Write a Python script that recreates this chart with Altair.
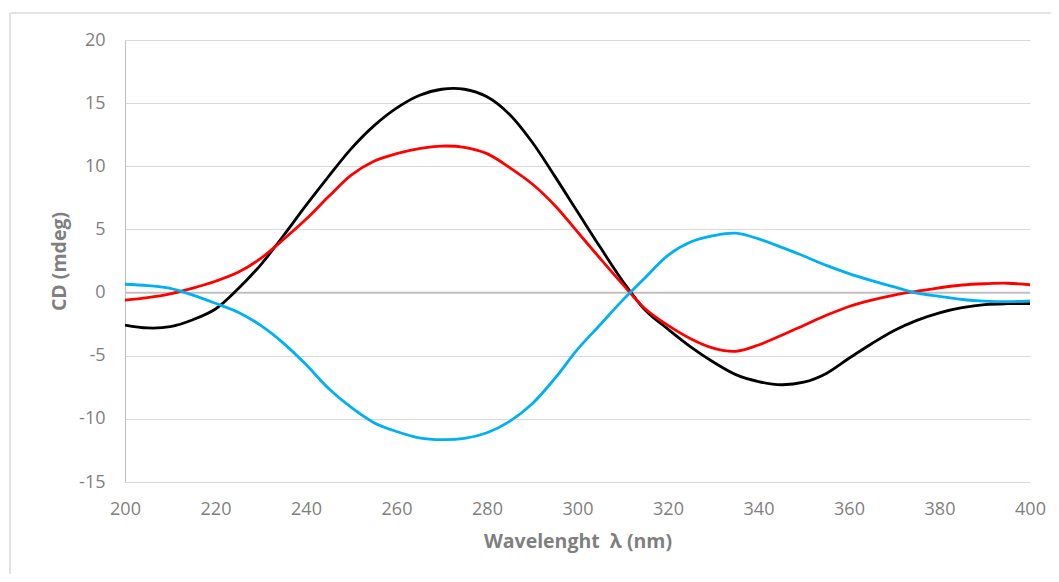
import altair as alt
import pandas as pd

wavelength = [200, 205, 210, 215, 220, 225, 230, 235, 240, 245, 250, 255, 260, 265, 270,
              275, 280, 285, 290, 295, 300, 305, 310, 315, 320, 325, 330, 335, 340, 345,
              350, 355, 360, 365, 370, 375, 380, 385, 390, 395, 400]

black_cd = [-2.57, -2.8, -2.7, -2.15, -1.3, 0.3, 2.2, 4.5, 6.9, 9.2, 11.4, 13.2, 14.6, 15.6, 16.1,
            16.1, 15.5, 14.1, 11.9, 9.2, 6.4, 3.6, 0.9, -1.4, -2.9, -4.3, -5.5, -6.5, -7.05, -7.3,
            -7.1, -6.4, -5.2, -4.05, -3.0, -2.2, -1.6, -1.2, -0.95, -0.88, -0.88]

red_cd = [-0.6, -0.4, -0.1, 0.35, 0.9, 1.6, 2.7, 4.2, 5.8, 7.6, 9.3, 10.4, 11.0, 11.4, 11.6,
          11.5, 11.0, 9.9, 8.6, 6.9, 4.8, 2.7, 0.65, -1.3, -2.6, -3.65, -4.4, -4.65, -4.15, -3.4,
          -2.6, -1.8, -1.1, -0.6, -0.2, 0.1, 0.38, 0.6, 0.7, 0.74, 0.62]

cyan_cd = [0.66, 0.55, 0.33, -0.2, -0.85, -1.55, -2.6, -4.0, -5.7, -7.6, -9.1, -10.3, -11.0, -11.5, -11.65,
           -11.55, -11.1, -10.2, -8.8, -6.8, -4.5, -2.55, -0.6, 1.2, 2.95, 4.0, 4.5, 4.7, 4.25, 3.6,
           2.9, 2.15, 1.5, 0.95, 0.45, -0.05, -0.3, -0.55, -0.68, -0.72, -0.65]

series_names = ["black", "red", "cyan"]
series_colors = ["#000000", "#FF0000", "#00B0F0"]

rows = []
for name, vals in zip(series_names, [black_cd, red_cd, cyan_cd]):
    for w, v in zip(wavelength, vals):
        rows.append({"wavelength": w, "cd": v, "series": name})
df = pd.DataFrame(rows)

FONT = "Open Sans"
GRAY = "#7f7f7f"

x_enc = alt.X(
    "wavelength:Q",
    scale=alt.Scale(domain=[200, 400], nice=False, zero=False),
    axis=alt.Axis(
        values=list(range(200, 401, 20)),
        title="Wavelenght\u00a0 λ (nm)",
        grid=False, ticks=False, domain=False, labelFlush=False,
        labelFont=FONT, labelFontSize=18, labelColor=GRAY, labelPadding=18,
        titleFont=FONT, titleFontSize=19.5, titleFontWeight="bold", titleColor=GRAY,
        titleY=50,
    ),
)
y_enc = alt.Y(
    "cd:Q",
    scale=alt.Scale(domain=[-15, 20], nice=False, zero=False),
    axis=alt.Axis(
        values=list(range(-15, 21, 5)),
        title="CD (mdeg)",
        labelExpr="toString(datum.value)",
        grid=True, gridColor="#d9d9d9", gridWidth=1,
        ticks=False, domain=True, domainColor="#bfbfbf", domainWidth=1,
        labelFont=FONT, labelFontSize=18, labelColor=GRAY, labelPadding=20,
        titleFont=FONT, titleFontSize=19.5, titleFontWeight="bold", titleColor=GRAY,
        titleX=-56,
    ),
)

zero_line = alt.Chart(alt.Data(values=[{"z": 0}])).mark_rule(
    color="#bfbfbf", strokeWidth=1.5
).encode(y=alt.Y("z:Q", scale=alt.Scale(domain=[-15, 20])))

lines = alt.Chart(df).mark_line(strokeWidth=2.8, interpolate="catmull-rom").encode(
    x=x_enc,
    y=y_enc,
    color=alt.Color("series:N", scale=alt.Scale(domain=series_names, range=series_colors), legend=None),
    detail="series:N",
)

frame_top = alt.Chart(alt.Data(values=[{"a": 1}])).mark_rule(color="#d9d9d9", strokeWidth=1.5).encode(
    x=alt.value(-115), x2=alt.value(1040), y=alt.value(-27)
)
frame_left = alt.Chart(alt.Data(values=[{"a": 1}])).mark_rule(color="#d9d9d9", strokeWidth=1.5).encode(
    x=alt.value(-115), y=alt.value(-27), y2=alt.value(560)
)

chart = alt.layer(frame_top, frame_left, zero_line, lines).properties(
    width=905,
    height=442,
    autosize=alt.AutoSizeParams(type="none"),
    padding={"left": 117, "top": 32, "right": 21, "bottom": 92},
    background="white",
).configure_view(stroke=None)

chart.save("out.html", embed_options={"renderer": "svg", "actions": False})
